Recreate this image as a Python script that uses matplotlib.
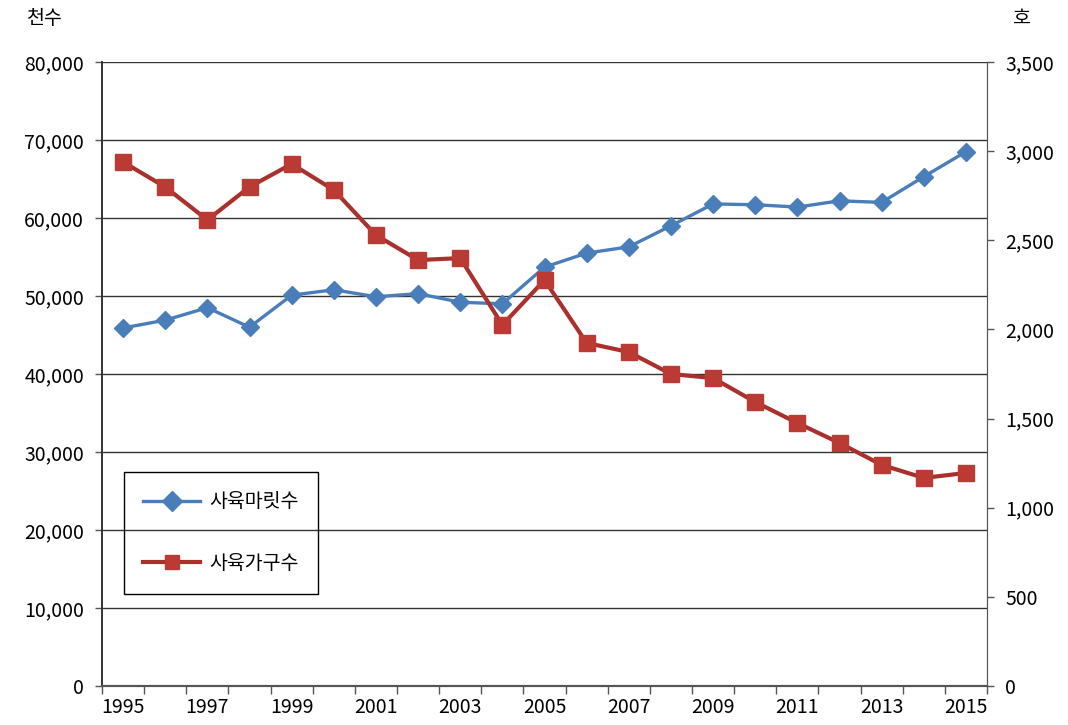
import matplotlib
matplotlib.use("Agg")
import matplotlib.pyplot as plt
from matplotlib.ticker import FuncFormatter, FixedLocator

plt.rcParams['font.family'] = ['Noto Sans CJK KR', 'DejaVu Sans']

years = list(range(1995, 2016))
heads = [45900, 46900, 48500, 46000, 50100, 50800, 49900, 50300, 49200, 49000,
         53700, 55500, 56300, 59000, 61800, 61700, 61400, 62200, 62000, 65300, 68500]
farms = [2939, 2799, 2614, 2799, 2928, 2782, 2529, 2389, 2400, 2025,
         2277, 1924, 1873, 1750, 1727, 1593, 1475, 1363, 1240, 1167, 1195]
label_heads = "사육마릿수"
label_farms = "사육가구수"
unit_left = "천수"
unit_right = "호"

blue = "#4a7ebb"
red_line = "#a9302c"
red_mark = "#bb3a34"

fig = plt.figure(figsize=(10.68, 7.25), dpi=100)
ax = fig.add_axes([0.0955, 0.0538, 0.8287, 0.8607])
ax2 = ax.twinx()

x = list(range(len(years)))
l1, = ax.plot(x, heads, color=blue, lw=2.4, marker='D', ms=9,
              markerfacecolor=blue, markeredgecolor=blue, zorder=3)
l2, = ax2.plot(x, farms, color=red_line, lw=3.0, marker='s', ms=12,
               markerfacecolor=red_mark, markeredgecolor=red_mark, zorder=3)

ax.set_xlim(-0.5, len(years) - 0.5)
ax.set_ylim(0, 80000)
ax2.set_ylim(0, 3500)

fmt = FuncFormatter(lambda v, p: f"{int(v):,}")
ax.yaxis.set_major_locator(FixedLocator(range(0, 80001, 10000)))
ax.yaxis.set_major_formatter(fmt)
ax2.yaxis.set_major_locator(FixedLocator(range(0, 3501, 500)))
ax2.yaxis.set_major_formatter(fmt)

# category boundaries carry the tick marks, labels sit at every other year
ax.xaxis.set_major_locator(FixedLocator([i - 0.5 for i in range(len(years) + 1)]))
ax.xaxis.set_major_formatter(FuncFormatter(lambda v, p: ""))
ax.xaxis.set_minor_locator(FixedLocator(x[::2]))
ax.set_xticklabels([str(y) for y in years[::2]], minor=True)
ax.tick_params(axis='x', which='major', direction='out', length=6, width=1, color='#555555')
ax.tick_params(axis='x', which='minor', length=0, pad=8, labelsize=14)
ax.tick_params(axis='y', direction='out', length=5, width=1, color='#555555', labelsize=14, pad=8)
ax2.tick_params(axis='y', direction='out', length=5, width=1, color='#555555', labelsize=14, pad=8)

ax.grid(axis='y', color='#333333', lw=1.0)
ax.set_axisbelow(True)
for a in (ax, ax2):
    a.spines['top'].set_visible(False)
    a.spines['left'].set_color('#333333')
    a.spines['right'].set_color('#555555')
    a.spines['bottom'].set_color('#555555')
    a.spines['left'].set_linewidth(1.2)
    a.spines['bottom'].set_linewidth(1.5)

fig.text(45 / 1068, 1 - 18 / 725, unit_left, ha='center', va='center', fontsize=14)
fig.text(1022 / 1068, 1 - 18 / 725, unit_right, ha='center', va='center', fontsize=14)

leg = ax2.legend([l1, l2], [label_heads, label_farms], loc='upper left',
                 bbox_to_anchor=(22 / 885, 1 - 410 / 624), fontsize=14,
                 frameon=True, fancybox=False, edgecolor='black',
                 labelspacing=2.1, borderpad=1.0, handlelength=2.9,
                 handletextpad=0.5, borderaxespad=0)
frame = leg.get_frame()
frame.set_facecolor('none')
frame.set_alpha(None)
frame.set_edgecolor('black')
frame.set_linewidth(1.0)
for h in leg.legend_handles:
    h.set_markersize(10)

fig.savefig("out.png", dpi=100, facecolor='white')
